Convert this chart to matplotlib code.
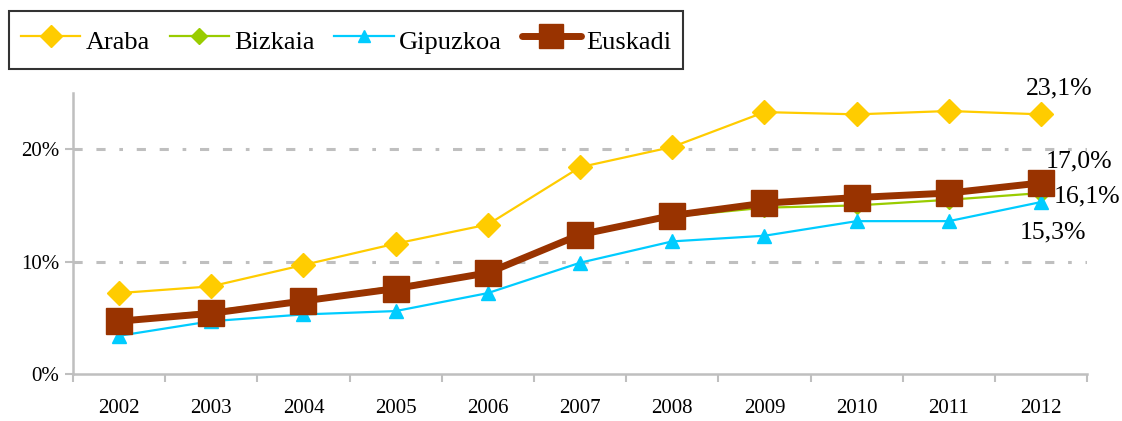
import numpy as np
import matplotlib.pyplot as plt
from matplotlib.ticker import FixedLocator, PercentFormatter

years = ["2002", "2003", "2004", "2005", "2006", "2007", "2008", "2009", "2010", "2011", "2012"]
araba = [7.2, 7.8, 9.7, 11.6, 13.3, 18.4, 20.2, 23.3, 23.1, 23.4, 23.1]
bizkaia = [4.8, 5.6, 6.6, 7.8, 9.1, 12.4, 14.0, 14.8, 15.0, 15.5, 16.1]
gipuzkoa = [3.4, 4.7, 5.3, 5.6, 7.2, 9.9, 11.8, 12.3, 13.6, 13.6, 15.3]
euskadi = [4.7, 5.4, 6.5, 7.6, 9.0, 12.4, 14.1, 15.2, 15.7, 16.1, 17.0]
end_labels = ["23,1%", "16,1%", "15,3%", "17,0%"]

plt.rcParams['font.family'] = ['Liberation Serif', 'DejaVu Serif']

fig = plt.figure(figsize=(11.22, 4.21), dpi=100)
ax = fig.add_axes([0.065, 0.1116, 0.904, 0.6675])
x = np.arange(len(years))

grid_ls = (0, (3, 4.5, 3, 4.5, 1.2, 4.5))
for yv in [10, 20]:
    ax.axhline(yv, color="#BFBFBF", lw=2.2, ls=grid_ls, zorder=1)

l1, = ax.plot(x, araba, color="#FFCC00", lw=1.6, marker="D", ms=12.5, label="Araba", zorder=3)
l2, = ax.plot(x, bizkaia, color="#99CC00", lw=1.6, marker="D", ms=9, label="Bizkaia", zorder=3)
l3, = ax.plot(x, gipuzkoa, color="#00CCFF", lw=1.6, marker="^", ms=10, label="Gipuzkoa", zorder=3)
l4, = ax.plot(x, euskadi, color="#993300", lw=5, marker="s", ms=19, label="Euskadi",
              solid_capstyle="round", zorder=4)

ax.set_xlim(-0.5, len(years) - 0.5)
ax.set_ylim(0, 25)
ax.set_xticks(x)
ax.set_xticklabels(years)
ax.xaxis.set_minor_locator(FixedLocator(np.arange(-0.5, len(years), 1.0)))
ax.tick_params(axis="x", which="major", length=0, labelsize=15, pad=18)
ax.tick_params(axis="x", which="minor", length=6, width=1.5, color="#BFBFBF")
ax.set_yticks([0, 10, 20])
ax.yaxis.set_major_formatter(PercentFormatter(decimals=0))
ax.tick_params(axis="y", length=6, width=1.5, color="#BFBFBF", labelsize=15, pad=4)
for s in ["top", "right"]:
    ax.spines[s].set_visible(False)
for s in ["left", "bottom"]:
    ax.spines[s].set_color("#BFBFBF")
    ax.spines[s].set_linewidth(1.8)

# end-of-series labels
last = len(years) - 1
offsets = [(18, 26), (46, -3), (12, -30), (38, 21)]
series = [araba, bizkaia, gipuzkoa, euskadi]
for vals, lab, off in zip(series, end_labels, offsets):
    ax.annotate(lab, (last, vals[-1]), xytext=off, textcoords="offset pixels",
                ha="center", va="center", fontsize=18.5, annotation_clip=False, zorder=5)

leg = fig.legend(handles=[l1, l2, l3, l4], loc="upper left", bbox_to_anchor=(0.008, 0.974),
                 ncol=4, fontsize=19, frameon=True, fancybox=False, edgecolor="black",
                 handlelength=2.25, handleheight=1.65, columnspacing=0.75, handletextpad=0.2,
                 borderpad=0.45, borderaxespad=0, markerscale=0.9)
leg.get_frame().set_linewidth(1.5)

fig.savefig("out.png", dpi=100)
